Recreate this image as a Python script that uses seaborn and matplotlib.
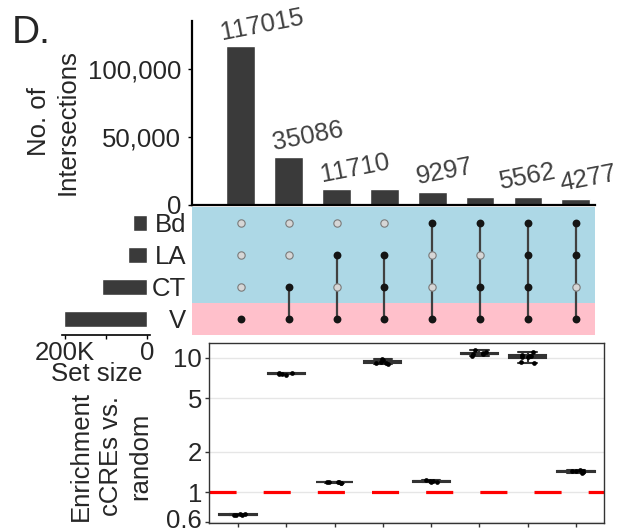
import numpy as np
import pandas as pd
import matplotlib
matplotlib.use("Agg")
import matplotlib.pyplot as plt
import matplotlib.transforms as mtransforms
import seaborn as sns
from matplotlib.ticker import FixedLocator, NullLocator, FuncFormatter

# ---------------- data ----------------
sets = ["Bd", "LA", "CT", "V"]
set_sizes = [34000, 46000, 110000, 202000]

intersection_sizes = [117015, 35086, 11710, 11700, 9297, 6100, 5562, 4277]
label_shown = [True, True, True, False, True, False, True, True]
membership = [
    ["V"],
    ["CT", "V"],
    ["LA", "V"],
    ["LA", "CT", "V"],
    ["Bd", "V"],
    ["Bd", "CT", "V"],
    ["Bd", "LA", "CT", "V"],
    ["Bd", "LA", "V"],
]
intersection_names = ["&".join(m) for m in membership]

enrich_1 = [0.675, 0.68, 0.685, 0.69, 0.68]
enrich_2 = [7.5, 7.6, 7.65, 7.7, 7.6]
enrich_3 = [1.17, 1.18, 1.19, 1.2, 1.19, 1.2]
enrich_4 = [9.0, 9.2, 9.3, 9.6, 9.8, 9.1]
enrich_5 = [1.2, 1.21, 1.22, 1.23, 1.2]
enrich_6 = [10.3, 10.6, 10.8, 11.0, 11.4, 10.7]
enrich_7 = [11.0, 10.5, 10.3, 10.1, 10.2, 9.3, 9.2, 10.4]
enrich_8 = [1.40, 1.42, 1.43, 1.45, 1.44, 1.46]
enrichments = [enrich_1, enrich_2, enrich_3, enrich_4,
               enrich_5, enrich_6, enrich_7, enrich_8]
baseline = 1.0

y_ticks_enrich = [0.6, 1, 2, 5, 10]
y_ticks_top = [0, 50000, 100000]
set_ticks = [200000, 100000, 0]
set_tick_labels = ["200K", "", "0"]

# ---------------- style ----------------
sns.set_style("ticks")
plt.rcParams["font.family"] = ["Liberation Sans", "DejaVu Sans"]
plt.rcParams["lines.scale_dashes"] = False
FS = 18.5
W, H = 617, 530

fig = plt.figure(figsize=(W / 100, H / 100), dpi=100)


def ax_px(l, t, r, b):
    return fig.add_axes([l / W, 1 - b / H, (r - l) / W, (b - t) / H])


ax_top = ax_px(192, 21, 595, 205)
ax_mat = ax_px(192, 207, 595, 335)
ax_set = ax_px(62, 207, 150, 335)
ax_box = ax_px(209, 343, 604, 523)

bar_color = "#3a3a3a"

# ---------------- top intersection bars ----------------
top_df = pd.DataFrame({"name": intersection_names, "size": intersection_sizes})
sns.barplot(data=top_df, x="name", y="size", order=intersection_names,
            color=bar_color, saturation=1, width=0.6, ax=ax_top)
ax_top.set_xlim(-1.02, 7.4)
ax_top.set_ylim(0, 135300)
ax_top.yaxis.set_major_locator(FixedLocator(y_ticks_top))
ax_top.yaxis.set_major_formatter(FuncFormatter(lambda v, p: f"{int(v):,}"))
ax_top.tick_params(axis="y", labelsize=FS, length=3, width=1, pad=5, color="black")
ax_top.set_xticks([])
ax_top.set_xlabel("")
ax_top.set_ylabel("")
for s in ["top", "right"]:
    ax_top.spines[s].set_visible(False)
for s in ["left", "bottom"]:
    ax_top.spines[s].set_linewidth(1.6)
    ax_top.spines[s].set_color("black")

label_dx_px = [21, 19, 18, 0, 12, 0, 0, 12]
for i, (v, show) in enumerate(zip(intersection_sizes, label_shown)):
    if show:
        ax_top.annotate(f"{v}", (i, v), xytext=(label_dx_px[i] * 0.72, 21 * 0.72),
                        textcoords="offset points", ha="center", va="center",
                        rotation=11, fontsize=FS, color="#404040",
                        annotation_clip=False)

# ---------------- matrix ----------------
ax_mat.set_xlim(-1.02, 7.4)
ax_mat.set_ylim(3.5, -0.5)
ax_mat.axhspan(-0.5, 2.5, color="#ADD8E6", zorder=0, lw=0)
ax_mat.axhspan(2.5, 3.5, color="#FFC0CB", zorder=0, lw=0)
for i, mem in enumerate(membership):
    ys = [sets.index(s) for s in mem]
    ax_mat.plot([i, i], [min(ys), max(ys)], color="#404040", lw=1.6, zorder=2)
    for j, s in enumerate(sets):
        if s in mem:
            ax_mat.scatter(i, j, s=32, color="#151515", zorder=3, lw=0)
        else:
            ax_mat.scatter(i, j, s=28, facecolor="#d6d6d6", edgecolor="#7a7a7a",
                           lw=0.8, zorder=3)
ax_mat.set_xticks([])
ax_mat.set_yticks(range(len(sets)))
ax_mat.set_yticklabels(sets)
ax_mat.tick_params(axis="y", length=0, pad=4, labelsize=FS)
for s in ax_mat.spines.values():
    s.set_visible(False)

# ---------------- set size bars ----------------
set_df = pd.DataFrame({"set": sets, "size": set_sizes})
sns.barplot(data=set_df, y="set", x="size", order=sets, orient="h",
            color=bar_color, saturation=1, width=0.48, ax=ax_set)
ax_set.set_ylim(3.5, -0.5)
ax_set.set_xlim(207000, -7300)
ax_set.xaxis.set_major_locator(FixedLocator(set_ticks))
ax_set.set_xticklabels(set_tick_labels)
ax_set.tick_params(axis="x", labelsize=FS, length=3, width=1, pad=1, color="black")
ax_set.set_yticks([])
ax_set.set_ylabel("")
ax_set.set_xlabel("")
for s in ["top", "right", "left"]:
    ax_set.spines[s].set_visible(False)
ax_set.spines["bottom"].set_linewidth(1.2)
ax_set.spines["bottom"].set_color("black")
fig.text(97 / W, 1 - 374 / H, "Set size", ha="center", va="center", fontsize=FS)

# ---------------- enrichment boxplot ----------------
rows = []
for name, vals in zip(intersection_names, enrichments):
    for v in vals:
        rows.append({"name": name, "enrichment": v})
box_df = pd.DataFrame(rows)

ax_box.set_axisbelow(True)
ax_box.grid(True, color="#e6e6e6", lw=1)
ax_box.axhline(baseline, color="red", lw=2.3, dashes=(19.5, 19.5), zorder=1.5)
sns.boxplot(data=box_df, x="name", y="enrichment", order=intersection_names,
            width=0.77, color="white", linecolor="#333333", linewidth=1.5,
            showfliers=False, log_scale=True, ax=ax_box, zorder=2)
sns.stripplot(data=box_df, x="name", y="enrichment", order=intersection_names,
              color="black", size=3.4, jitter=0.15, ax=ax_box, zorder=3)
ax_box.set_yscale("log")
ax_box.set_ylim(0.59, 12.9)
ax_box.set_xlim(-0.6, 7.58)
ax_box.yaxis.set_major_locator(FixedLocator(y_ticks_enrich))
ax_box.yaxis.set_minor_locator(NullLocator())
ax_box.set_yticklabels([f"{t:g}" for t in y_ticks_enrich])
ax_box.set_xticklabels([])
ax_box.tick_params(axis="both", length=3, width=1, color="#333333", labelsize=FS, pad=2)
ax_box.set_xlabel("")
ax_box.set_ylabel("")
for s in ax_box.spines.values():
    s.set_visible(True)
    s.set_color("#333333")
    s.set_linewidth(1.0)

# nudge the lowest tick label up slightly so it stays inside the figure
lift = mtransforms.ScaledTranslation(0, 4 / 100, fig.dpi_scale_trans)
ax_box.get_yticklabels()[0].set_transform(ax_box.get_yticklabels()[0].get_transform() + lift)

# ---------------- labels ----------------
fig.text(53 / W, 1 - 122 / H, "No. of\nIntersections", rotation=90,
         ha="center", va="center", fontsize=FS, linespacing=1.25,
         multialignment="center")
fig.text(111 / W, 1 - 456 / H, "Enrichment\ncCREs vs.\nrandom", rotation=90,
         ha="center", va="center", fontsize=FS, linespacing=1.3,
         multialignment="center")
fig.text(12 / W, 1 - 43 / H, "D.", ha="left", va="baseline", fontsize=28)

fig.savefig("out.png", dpi=100)
